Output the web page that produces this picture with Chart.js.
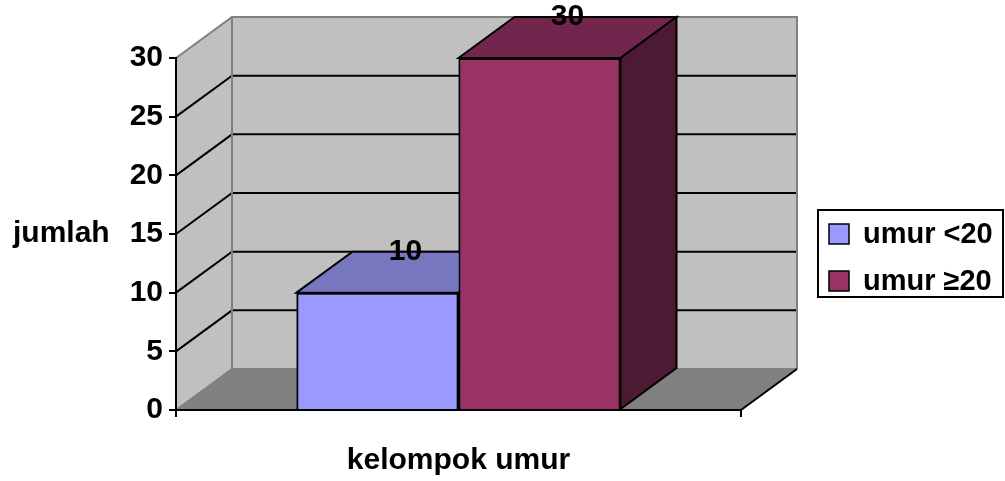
<!DOCTYPE html>
<html>
<head>
<meta charset="utf-8">
<script src="https://cdn.jsdelivr.net/npm/chart.js@4/dist/chart.umd.min.js"></script>
<style>
  html, body { margin: 0; padding: 0; background: #ffffff; }
  canvas { display: block; }
</style>
</head>
<body>
<canvas id="chart" width="1005" height="481"></canvas>
<script>
// ---- data ----
const categories = [''];
const seriesNames = ['umur <20', 'umur \u226520'];
const valuesUnder20 = [10];
const values20Plus = [30];
const yTicks = [0, 5, 10, 15, 20, 25, 30];
const xAxisTitle = 'kelompok umur';
const yAxisTitle = 'jumlah';

// ---- styling ----
const FONT = '"Liberation Sans", Arial, Helvetica, sans-serif';
const DX = 56, DY = -41;            // depth offset of the 3D box
const WALL = '#c0c0c0', FLOOR = '#808080', EDGE = '#808080';
const faces = [
  { front: '#9999ff', top: '#7777bf', side: '#5b5b99' },
  { front: '#993366', top: '#73264d', side: '#4d1a33' }
];

function poly(ctx, pts, fill, stroke, lw) {
  ctx.beginPath();
  ctx.moveTo(pts[0][0], pts[0][1]);
  for (let i = 1; i < pts.length; i++) ctx.lineTo(pts[i][0], pts[i][1]);
  ctx.closePath();
  if (fill) { ctx.fillStyle = fill; ctx.fill(); }
  if (stroke) { ctx.strokeStyle = stroke; ctx.lineWidth = lw || 2; ctx.stroke(); }
}
function path(ctx, pts, stroke, lw) {
  ctx.beginPath();
  ctx.moveTo(pts[0][0], pts[0][1]);
  for (let i = 1; i < pts.length; i++) ctx.lineTo(pts[i][0], pts[i][1]);
  ctx.strokeStyle = stroke; ctx.lineWidth = lw || 2;
  ctx.stroke();
}

// walls, floor, 3D bar faces, value labels and the boxed legend
const box3d = {
  id: 'box3d',
  beforeDraw(chart) {
    const { ctx, chartArea: a, scales: { y } } = chart;
    const L = a.left, R = a.right, T = a.top, B = a.bottom;
    ctx.save();
    ctx.lineJoin = 'miter';
    poly(ctx, [[L, B], [L, T], [L + DX, T + DY], [L + DX, B + DY]], WALL);
    poly(ctx, [[L + DX, T + DY], [R + DX, T + DY], [R + DX, B + DY], [L + DX, B + DY]], WALL);
    poly(ctx, [[L, B], [R, B], [R + DX, B + DY], [L + DX, B + DY]], FLOOR);
    // grid lines running along the side wall and the back wall
    y.ticks.forEach(t => {
      if (t.value <= y.min || t.value >= y.max) return;
      const py = y.getPixelForValue(t.value);
      path(ctx, [[L, py], [L + DX, py + DY], [R + DX, py + DY]], '#000', 2);
    });
    // wall edges
    path(ctx, [[L, T], [L + DX, T + DY], [R + DX, T + DY], [R + DX, B + DY]], EDGE, 2);
    path(ctx, [[L + DX, T + DY], [L + DX, B + DY], [R + DX, B + DY]], EDGE, 2);
    path(ctx, [[L, B], [L + DX, B + DY]], EDGE, 2);
    path(ctx, [[R, B], [R + DX, B + DY]], '#000', 2);
    ctx.restore();
  },
  afterDatasetsDraw(chart) {
    const ctx = chart.ctx;
    const bars = [];
    chart.data.datasets.forEach((ds, di) => {
      const meta = chart.getDatasetMeta(di);
      if (meta.hidden) return;
      meta.data.forEach(el => bars.push({ el, di }));
    });
    bars.sort((p, q) => p.el.x - q.el.x);
    ctx.save();
    ctx.lineJoin = 'miter';
    bars.forEach(({ el, di }) => {
      const { x, y, base, width } = el.getProps(['x', 'y', 'base', 'width'], true);
      const l = x - width / 2, r = x + width / 2;
      el.draw(ctx, chart.chartArea);
      poly(ctx, [[l, y], [l + DX, y + DY], [r + DX, y + DY], [r, y]], faces[di].top, '#000', 2);
      poly(ctx, [[r, y], [r + DX, y + DY], [r + DX, base + DY], [r, base]], faces[di].side, '#000', 2);
    });
    ctx.restore();
  },
  afterDraw(chart) {
    const { ctx, chartArea: a } = chart;
    ctx.save();
    // value labels on the bar tops
    ctx.font = 'bold 30px ' + FONT;
    ctx.fillStyle = '#000';
    ctx.textAlign = 'center';
    ctx.textBaseline = 'middle';
    chart.data.datasets.forEach((ds, di) => {
      const meta = chart.getDatasetMeta(di);
      meta.data.forEach((el, i) => {
        ctx.fillText(String(ds.data[i]), el.x + DX / 2, el.y + DY);
      });
    });
    // horizontal y-axis title
    ctx.textAlign = 'left';
    ctx.fillText(yAxisTitle, 13, (a.top + a.bottom) / 2);
    // legend
    const lx = 818, ly = 210, lw = 185, lh = 87;
    ctx.fillStyle = '#fff';
    ctx.fillRect(lx, ly, lw, lh);
    ctx.strokeStyle = '#000';
    ctx.lineWidth = 2;
    ctx.strokeRect(lx, ly, lw, lh);
    ctx.font = 'bold 29px ' + FONT;
    chart.data.datasets.forEach((ds, di) => {
      const cy = ly + 24 + di * 47;
      ctx.fillStyle = ds.backgroundColor;
      ctx.fillRect(lx + 11, cy - 10, 20, 20);
      ctx.lineWidth = 1.5;
      ctx.strokeRect(lx + 11, cy - 10, 20, 20);
      ctx.fillStyle = '#000';
      ctx.textAlign = 'left';
      ctx.textBaseline = 'middle';
      ctx.fillText(ds.label, lx + 45, cy + 1);
    });
    ctx.restore();
  }
};

const tickFont = { family: FONT, size: 30, weight: 'bold' };

new Chart(document.getElementById('chart'), {
  type: 'bar',
  data: {
    labels: categories,
    datasets: [
      { label: seriesNames[0], data: valuesUnder20, backgroundColor: faces[0].front, borderColor: '#000', borderWidth: 2 },
      { label: seriesNames[1], data: values20Plus, backgroundColor: faces[1].front, borderColor: '#000', borderWidth: 2 }
    ]
  },
  options: {
    responsive: false,
    animation: false,
    devicePixelRatio: 1,
    layout: { padding: { left: 0, top: 58, right: 264, bottom: 0 } },
    datasets: { bar: { categoryPercentage: 0.5735, barPercentage: 1 } },
    plugins: { legend: { display: false }, tooltip: { enabled: false } },
    scales: {
      x: {
        grid: { drawOnChartArea: false, offset: true, tickLength: 7, color: '#000', lineWidth: 2 },
        border: { color: '#000', width: 2 },
        ticks: { color: '#000', font: tickFont },
        title: { display: true, text: xAxisTitle, color: '#000', font: { family: FONT, size: 30, weight: 'bold' }, padding: { top: 0, bottom: 2 } },
        afterFit(s) { s.height = 71; }
      },
      y: {
        min: 0, max: 30,
        afterBuildTicks(s) { s.ticks = yTicks.map(v => ({ value: v })); },
        ticks: { color: '#000', font: tickFont, padding: 6 },
        grid: { drawOnChartArea: false, tickLength: 7, color: '#000', lineWidth: 2 },
        border: { color: '#000', width: 2 },
        afterFit(s) { s.width = 176; }
      }
    }
  },
  plugins: [box3d]
});
</script>
</body>
</html>
